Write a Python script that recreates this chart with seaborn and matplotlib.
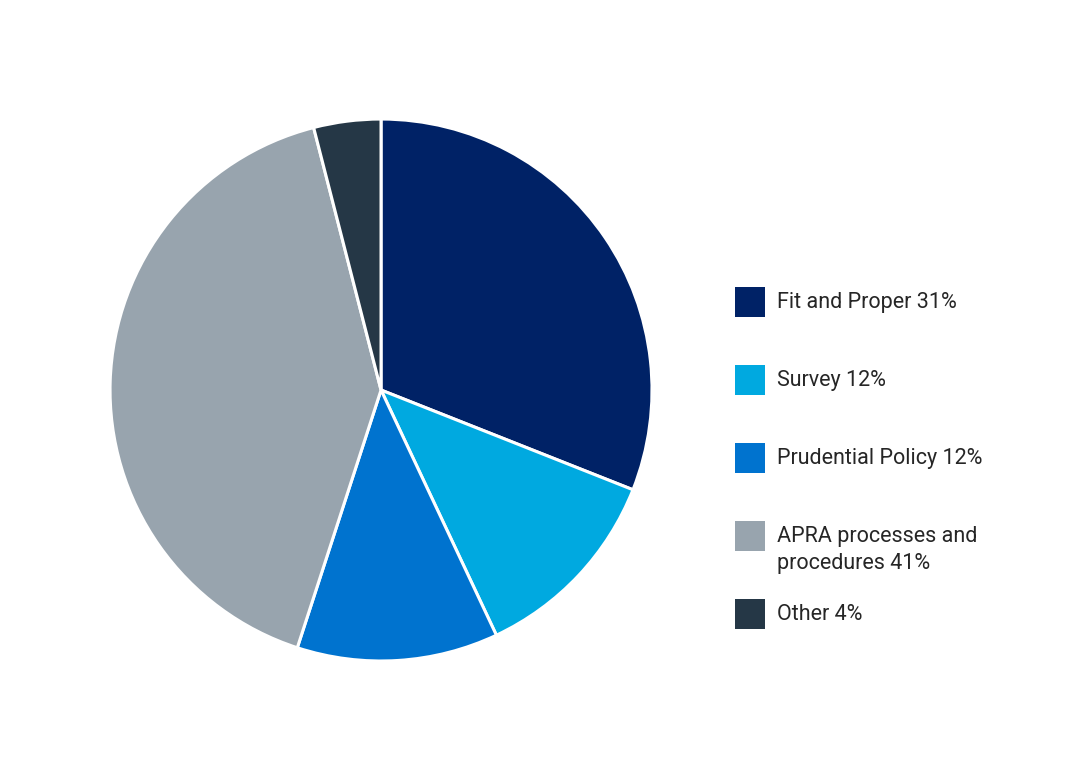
import matplotlib
matplotlib.use("Agg")
import matplotlib.pyplot as plt
import seaborn as sns
from matplotlib.patches import Rectangle

# Complaint categories and shares (%)
labels = ["Fit and Proper 31%", "Survey 12%", "Prudential Policy 12%",
          "APRA processes and\nprocedures 41%", "Other 4%"]
shares = [31, 12, 12, 41, 4]
colors = ["#002266", "#00a9e0", "#0073cf", "#98a4ae", "#253746"]

sns.set_theme(style="white")
plt.rcParams["font.family"] = ["Roboto", "DejaVu Sans"]

fig = plt.figure(figsize=(10.84, 7.67), dpi=100)
ax = fig.add_axes([0.1015, 0.1382, 0.5, 0.7066])
ax.pie(shares, colors=sns.color_palette(colors), startangle=90, counterclock=False,
       radius=1, wedgeprops=dict(edgecolor="white", linewidth=2.2))
ax.set_xlim(-1, 1)
ax.set_ylim(-1, 1)
ax.set_aspect("equal")
ax.axis("off")

# legend, drawn in figure pixels
W, H = 1084, 767
sq_y = [287, 365, 443, 521, 599]
for lab, col, y in zip(labels, colors, sq_y):
    fig.patches.append(Rectangle((735 / W, (H - y - 30) / H), 30 / W, 30 / H,
                                 transform=fig.transFigure, facecolor=col,
                                 edgecolor="none"))
    fig.text(777 / W, (H - y - 5) / H, lab, fontsize=15.5, color="#262626",
             va="top", ha="left", linespacing=1.35)

fig.savefig("out.png", dpi=100, facecolor="white")
